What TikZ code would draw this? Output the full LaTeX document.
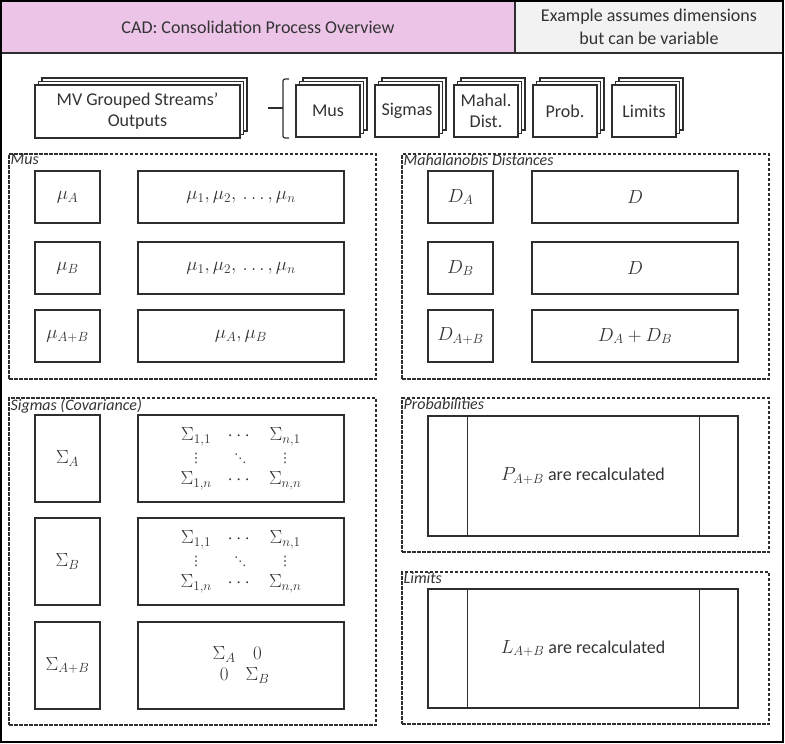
\RequirePackage{fix-cm}
\documentclass[tikz,border=0pt]{standalone}
\usepackage{amsmath}
\usepackage{fontspec}
\setmainfont{Carlito}
\newfontfamily\symfont{DejaVu Sans}
\usetikzlibrary{shadows,calc}
\definecolor{hdrpink}{HTML}{ECC4E8}
\definecolor{hdrgrey}{HTML}{F2F2F2}
\definecolor{ink}{HTML}{333333}
\definecolor{edge}{HTML}{2E2E2E}
\newcommand{\myvd}{\text{\symfont\fontsize{13}{13}\selectfont ⋮}}
\newcommand{\mydd}{\text{\symfont\fontsize{12}{12}\selectfont ⋱}}
\tikzset{
  box/.style={draw=edge, line width=1.2pt, fill=white, rectangle, inner sep=0pt, text=ink,
    font=\fontsize{18}{21}\selectfont, align=center},
  stack/.style={box, double copy shadow={shadow xshift=3.5pt, shadow yshift=3.5pt}},
  grp/.style={draw=edge, line width=1.1pt, dash pattern=on 3.5pt off 1.5pt, rectangle, inner sep=0pt},
  grplabel/.style={anchor=north west, inner sep=0pt, text=ink, font=\itshape\fontsize{16}{18}\selectfont},
  hdr/.style={draw=edge, line width=1.2pt, rectangle, inner sep=0pt, text=ink,
    font=\fontsize{18}{23}\selectfont, align=center},
  mth/.style={font=\fontsize{19}{21}\selectfont}
}
\begin{document}
\begin{tikzpicture}[x=1pt,y=-1pt]
\useasboundingbox (0,0) rectangle (785,744);
% header
\node[hdr, fill=hdrpink, minimum width=514, minimum height=52] (title) at (258,27) {CAD: Consolidation Process Overview};
\node[hdr, fill=hdrgrey, minimum width=268, minimum height=52] (note) at (649,27) {Example assumes dimensions\\but can be variable};
\node[draw=black, line width=2.2pt, rectangle, inner sep=0pt, minimum width=782, minimum height=741] (frame) at (392,371.5) {};
% top row
\node[stack, minimum width=205, minimum height=53] (mv) at (137.5,111.5) {MV Grouped Streams'\\Outputs};
\coordinate (tk) at (268,108);
\coordinate (brk) at (283,108);
\draw[draw=edge, line width=1.2pt] (tk) -- (brk);
\draw[draw=edge, line width=1.2pt, rounded corners=2pt] ([xshift=6pt,yshift=29pt]brk) -- ([yshift=29pt]brk) -- ([yshift=-30pt]brk) -- ([xshift=6pt,yshift=-30pt]brk);
\node[stack, minimum width=64, minimum height=52] (smus) at (328,111) {Mus};
\node[stack, minimum width=64, minimum height=52] (ssig) at (407,111) {Sigmas};
\node[stack, minimum width=64, minimum height=52] (smah) at (486,111) {Mahal.\\Dist.};
\node[stack, minimum width=64, minimum height=52] (sprob) at (565,111) {Prob.};
\node[stack, minimum width=64, minimum height=52] (slim) at (644,111) {Limits};
% Mus group
\node[grp, minimum width=367, minimum height=225] (gmus) at (192.5,266.5) {};
\node[grplabel] (lmus) at ([xshift=2pt,yshift=-1pt]gmus.north west) {Mus};
\node[box, mth, minimum width=65, minimum height=52] (muA) at (67.5,197) {$\mu_A$};
\node[box, mth, minimum width=206, minimum height=52] (muAv) at (241,197) {$\mu_1,\mu_2,\,\ldots,\mu_n$};
\node[box, mth, minimum width=65, minimum height=52] (muB) at (67.5,268) {$\mu_B$};
\node[box, mth, minimum width=206, minimum height=52] (muBv) at (241,268) {$\mu_1,\mu_2,\,\ldots,\mu_n$};
\node[box, mth, minimum width=65, minimum height=52] (muAB) at (67.5,336) {$\mu_{A+B}$};
\node[box, mth, minimum width=206, minimum height=52] (muABv) at (241,336) {$\mu_A,\mu_B$};
% Mahalanobis group
\node[grp, minimum width=367, minimum height=225] (gmah) at (585.5,266.5) {};
\node[grplabel] (lmah) at ([xshift=2pt,yshift=-1pt]gmah.north west) {Mahalanobis Distances};
\node[box, mth, minimum width=65, minimum height=52] (dA) at (460.5,197) {$D_A$};
\node[box, mth, minimum width=206, minimum height=52] (dAv) at (635,197) {$D$};
\node[box, mth, minimum width=65, minimum height=52] (dB) at (460.5,268) {$D_B$};
\node[box, mth, minimum width=206, minimum height=52] (dBv) at (635,268) {$D$};
\node[box, mth, minimum width=65, minimum height=52] (dAB) at (460.5,336) {$D_{A+B}$};
\node[box, mth, minimum width=206, minimum height=52] (dABv) at (635,336) {$D_A+D_B$};
% Sigmas group
\node[grp, minimum width=367, minimum height=327] (gsig) at (192.5,561.5) {};
\node[grplabel] (lsig) at ([xshift=2pt,yshift=-1pt]gsig.north west) {Sigmas (Covariance)};
\node[box, mth, minimum width=65, minimum height=87] (sA) at (67.5,458.5) {$\Sigma_A$};
\node[box, mth, minimum width=206, minimum height=87] (sAv) at (241,458.5)
  {$\setlength{\arraycolsep}{8pt}\renewcommand{\arraystretch}{1.05}\begin{array}{ccc}\Sigma_{1,1}&\cdots&\Sigma_{n,1}\\ \myvd&\mydd&\myvd\\ \Sigma_{1,n}&\cdots&\Sigma_{n,n}\end{array}$};
\node[box, mth, minimum width=65, minimum height=87] (sB) at (67.5,561.5) {$\Sigma_B$};
\node[box, mth, minimum width=206, minimum height=87] (sBv) at (241,561.5)
  {$\setlength{\arraycolsep}{8pt}\renewcommand{\arraystretch}{1.05}\begin{array}{ccc}\Sigma_{1,1}&\cdots&\Sigma_{n,1}\\ \myvd&\mydd&\myvd\\ \Sigma_{1,n}&\cdots&\Sigma_{n,n}\end{array}$};
\node[box, mth, minimum width=65, minimum height=87] (sAB) at (67.5,665.5) {$\Sigma_{A+B}$};
\node[box, mth, minimum width=206, minimum height=87] (sABv) at (241,665.5)
  {$\begin{matrix}\Sigma_A&0\\0&\Sigma_B\end{matrix}$};
% Probabilities group
\node[grp, minimum width=367, minimum height=154] (gprob) at (585.5,475) {};
\node[grplabel] (lprob) at ([xshift=2pt,yshift=-1pt]gprob.north west) {Probabilities};
\node[box, minimum width=310, minimum height=120] (pin) at (583,476) {{\fontsize{19}{21}\selectfont$P_{A+B}$} are recalculated};
\draw[draw=edge, line width=1.2pt] ([xshift=40pt]pin.north west) -- ([xshift=40pt]pin.south west);
\draw[draw=edge, line width=1.2pt] ([xshift=-39pt]pin.north east) -- ([xshift=-39pt]pin.south east);
% Limits group
\node[grp, minimum width=367, minimum height=152] (glim) at (585.5,648) {};
\node[grplabel] (llim) at ([xshift=2pt,yshift=-1pt]glim.north west) {Limits};
\node[box, minimum width=310, minimum height=119] (lin) at (583,648.5) {{\fontsize{19}{21}\selectfont$L_{A+B}$} are recalculated};
\draw[draw=edge, line width=1.2pt] ([xshift=40pt]lin.north west) -- ([xshift=40pt]lin.south west);
\draw[draw=edge, line width=1.2pt] ([xshift=-39pt]lin.north east) -- ([xshift=-39pt]lin.south east);
\end{tikzpicture}
\end{document}
